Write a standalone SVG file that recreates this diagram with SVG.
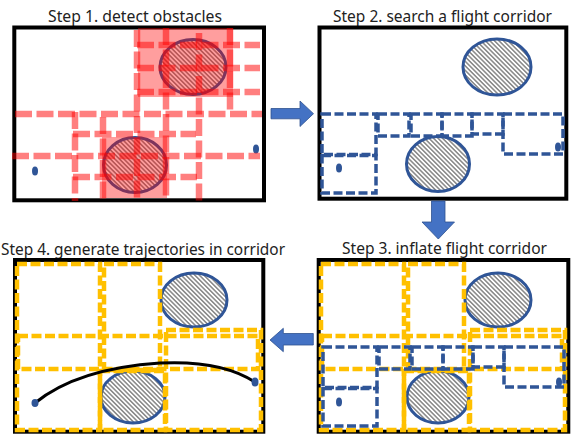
<svg xmlns="http://www.w3.org/2000/svg" width="575" height="441" viewBox="0 0 575 441">
<style>
.title{font-family:"Noto Sans","Liberation Sans",Arial,sans-serif;font-size:16.5px;fill:#222}
.frame{fill:#fff;stroke:#000;stroke-width:4}
.obs{fill:url(#hatch);stroke:#2F5597;stroke-width:3}
.dot{fill:#2F5597}
.rd{stroke:#FF0000;stroke-opacity:0.5;stroke-width:6.5;stroke-dasharray:17 4.5;fill:none}
.rz{fill:#FF0000;fill-opacity:0.38}
.bb{fill:none;stroke:#2F5597;stroke-width:3.5;stroke-dasharray:9 3.5}
.yb{fill:none;stroke:#FFC000;stroke-width:4.5;stroke-dasharray:10 3.5}
.arrow{fill:#4472C4;stroke:#2F528F;stroke-width:0.8}
.traj{fill:none;stroke:#000;stroke-width:3;stroke-linecap:round}
</style>
<defs>
<pattern id="hatch" width="3.2" height="3.2" patternUnits="userSpaceOnUse" patternTransform="rotate(-45)">
<rect width="3.2" height="3.2" fill="#fff"/>
<line x1="0.8" y1="0" x2="0.8" y2="3.2" stroke="#333" stroke-width="0.9"/>
</pattern>
</defs>

<g id="step1">
<text class="title" x="48" y="21.5" textLength="174" lengthAdjust="spacingAndGlyphs">Step 1. detect obstacles</text>
<rect class="frame" x="14.3" y="27.5" width="249.7" height="172.8"/>
<ellipse class="obs" cx="193" cy="67" rx="33" ry="27.5"/>
<ellipse class="obs" cx="135" cy="165" rx="31.5" ry="27.5"/>
<ellipse class="dot" cx="35" cy="171" rx="3" ry="4.5"/>
<ellipse class="dot" cx="256" cy="149" rx="3" ry="4.5"/>
<rect class="rz" x="138" y="28" width="95" height="69"/>
<rect class="rz" x="102" y="137" width="65" height="61"/>
<line class="rd" x1="137" y1="45" x2="260" y2="45"/>
<line class="rd" x1="137" y1="68" x2="260" y2="68"/>
<line class="rd" x1="137" y1="92" x2="260" y2="92"/>
<line class="rd" x1="15" y1="114" x2="262" y2="114"/>
<line class="rd" x1="73" y1="134" x2="196" y2="134"/>
<line class="rd" x1="12" y1="156" x2="260" y2="156"/>
<line class="rd" x1="73" y1="177" x2="197" y2="177"/>
<line class="rd" x1="75" y1="112" x2="75" y2="201"/>
<line class="rd" x1="103" y1="117" x2="103" y2="200"/>
<line class="rd" x1="137" y1="30" x2="137" y2="200"/>
<line class="rd" x1="166" y1="28" x2="166" y2="200"/>
<line class="rd" x1="199" y1="33" x2="199" y2="201"/>
<line class="rd" x1="230" y1="28" x2="230" y2="110"/>
</g>

<g id="step2">
<text class="title" x="333" y="21.5" textLength="219" lengthAdjust="spacingAndGlyphs">Step 2. search a flight corridor</text>
<rect class="frame" x="319.5" y="27.5" width="246.8" height="171.2"/>
<ellipse class="obs" cx="497" cy="67" rx="34" ry="28"/>
<ellipse class="obs" cx="438" cy="164" rx="31.5" ry="27.5"/>
<rect class="bb" x="322" y="114" width="54" height="40.5"/>
<rect class="bb" x="322" y="155.5" width="54" height="37.5"/>
<rect class="bb" x="378" y="114" width="31" height="22"/>
<rect class="bb" x="411" y="114" width="31" height="22"/>
<rect class="bb" x="442" y="114" width="30" height="22"/>
<rect class="bb" x="472" y="114" width="31" height="20"/>
<rect class="bb" x="503" y="114" width="60" height="40"/>
<ellipse class="dot" cx="339" cy="168" rx="3" ry="4.5"/>
<ellipse class="dot" cx="558" cy="147" rx="3" ry="4.5"/>
</g>

<g id="step3">
<text class="title" x="342" y="254" textLength="205" lengthAdjust="spacingAndGlyphs">Step 3. inflate flight corridor</text>
<rect class="frame" x="318.7" y="260" width="249.6" height="171.7"/>
<ellipse class="obs" cx="498" cy="300" rx="33" ry="27"/>
<ellipse class="obs" cx="438" cy="397" rx="31" ry="26"/>
<rect class="yb" x="321" y="264" width="83" height="166"/>
<rect class="yb" x="408" y="264" width="56" height="106"/>
<rect class="yb" x="322" y="336" width="240" height="33"/>
<rect class="yb" x="470" y="330" width="95" height="100"/>
<rect class="yb" x="404" y="371" width="65" height="59"/>
<rect class="bb" x="323" y="347" width="54" height="40.5"/>
<rect class="bb" x="323" y="388.5" width="54" height="37.5"/>
<rect class="bb" x="379" y="347" width="31" height="22"/>
<rect class="bb" x="412" y="347" width="31" height="22"/>
<rect class="bb" x="443" y="347" width="30" height="22"/>
<rect class="bb" x="473" y="347" width="31" height="20"/>
<rect class="bb" x="504" y="347" width="60" height="40"/>
<ellipse class="dot" cx="339" cy="402" rx="3" ry="4.5"/>
<ellipse class="dot" cx="559" cy="382" rx="3" ry="4.5"/>
</g>

<g id="step4">
<text class="title" x="1" y="255" textLength="284" lengthAdjust="spacingAndGlyphs">Step 4. generate trajectories in corridor</text>
<rect class="frame" x="15" y="260" width="248.3" height="171.7"/>
<ellipse class="obs" cx="194" cy="300" rx="33" ry="27"/>
<ellipse class="obs" cx="133" cy="397" rx="32" ry="26"/>
<rect class="yb" x="17" y="264" width="83" height="166"/>
<rect class="yb" x="104" y="264" width="56" height="106"/>
<rect class="yb" x="18" y="336" width="240" height="33"/>
<rect class="yb" x="166" y="330" width="95" height="100"/>
<rect class="yb" x="100" y="371" width="65" height="59"/>
<path class="traj" d="M35,403 C62,381 100,367 160,363 C200,361 232,367 255,382"/>
<ellipse class="dot" cx="35" cy="403" rx="3.5" ry="4"/>
<ellipse class="dot" cx="255" cy="382" rx="3.5" ry="4.5"/>
</g>

<g id="connectors">
<polygon class="arrow" points="271,108.5 300,108.5 300,101 313.5,113.7 300,126.5 300,118.8 271,118.8"/>
<polygon class="arrow" points="431.5,201 445,201 445,222 454.5,222 438.3,239 422,222 431.5,222"/>
<polygon class="arrow" points="270,340 283.3,328.3 283.3,333.5 313.3,333.5 313.3,345 283.3,345 283.3,351.7"/>
</g>
</svg>
